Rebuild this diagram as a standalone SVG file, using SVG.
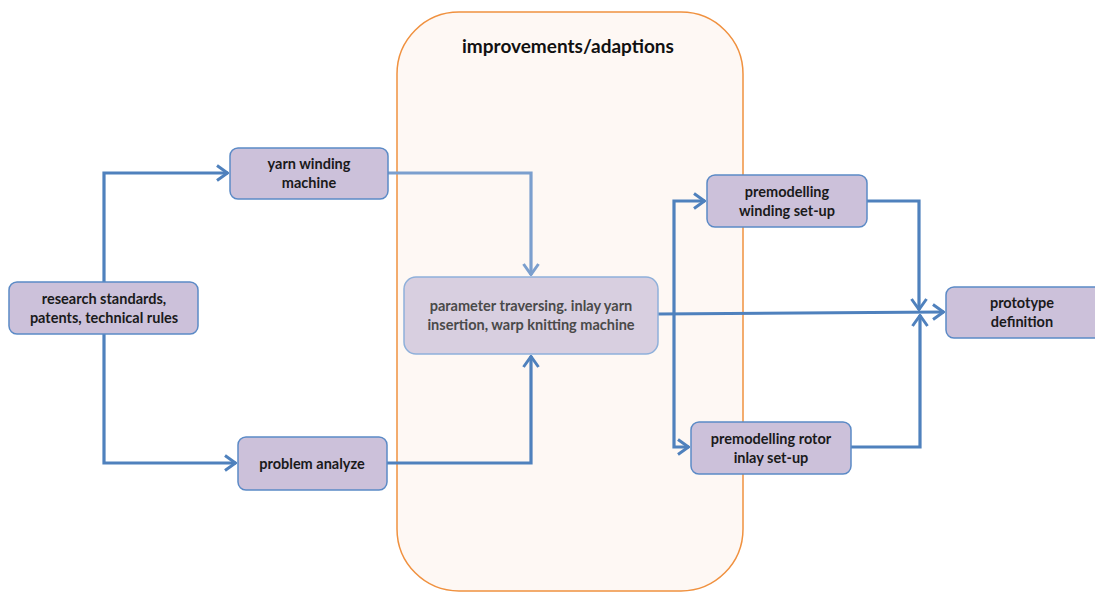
<svg xmlns="http://www.w3.org/2000/svg" width="1095" height="592" viewBox="0 0 1095 592">
<defs>
<style>
.node rect{fill:#ccc1da;stroke:#5b8ac6;stroke-width:1.5}
.node text{font-family:Lato,"Open Sans","Liberation Sans",sans-serif;font-weight:bold;font-size:14.5px;fill:#1a1a1a;text-anchor:middle}
.conn{fill:none;stroke:#4f81bd;stroke-width:3.2;stroke-linejoin:miter}
.light{stroke:#7b9fce}
</style>
<marker id="ah" viewBox="0 0 14 18" refX="13" refY="9" markerWidth="14" markerHeight="18" markerUnits="userSpaceOnUse" orient="auto">
<path d="M2,1.5 L12.5,9 L2,16.5" fill="none" stroke="#4f81bd" stroke-width="3"/>
</marker>
<marker id="ahl" viewBox="0 0 14 18" refX="13" refY="9" markerWidth="14" markerHeight="18" markerUnits="userSpaceOnUse" orient="auto">
<path d="M2,1.5 L12.5,9 L2,16.5" fill="none" stroke="#7b9fce" stroke-width="3"/>
</marker>
</defs>
<rect width="1095" height="592" fill="#ffffff"/>
<g id="group-improvements">
<rect x="397" y="12" width="346" height="579" rx="62" ry="62" fill="#fef8f4" stroke="#f0913f" stroke-width="1.5"/>
<text x="568" y="53" font-family="Lato,'Open Sans','Liberation Sans',sans-serif" font-weight="bold" font-size="19" fill="#111" text-anchor="middle">improvements/adaptions</text>
</g>
<g id="connectors">
<path class="conn" d="M104,282 V173 H228" marker-end="url(#ah)"/>
<path class="conn" d="M104,334 V463 H236" marker-end="url(#ah)"/>
<path class="conn light" d="M388,173 H531 V275" marker-end="url(#ahl)"/>
<path class="conn" d="M387,463 H531 V356" marker-end="url(#ah)"/>
<path class="conn" d="M658,314 L944,312" marker-end="url(#ah)"/>
<path class="conn" d="M674,314 V201 H705" marker-end="url(#ah)"/>
<path class="conn" d="M674,314 V447 H689" marker-end="url(#ah)"/>
<path class="conn" d="M867,201 H919 V310" marker-end="url(#ah)"/>
<path class="conn" d="M851,447 H920 V315" marker-end="url(#ah)"/>
</g>
<g id="node-research" class="node">
<rect x="9" y="282" width="189" height="52" rx="8"/>
<text x="104" y="304">research standards,</text>
<text x="104" y="323">patents, technical rules</text>
</g>
<g id="node-yarn" class="node">
<rect x="230" y="148" width="158" height="51" rx="8"/>
<text x="309" y="169">yarn winding</text>
<text x="309" y="188">machine</text>
</g>
<g id="node-problem" class="node">
<rect x="238" y="437" width="149" height="53" rx="8"/>
<text x="312" y="469">problem analyze</text>
</g>
<g id="node-parameter" class="node">
<rect x="404" y="277" width="254" height="77" rx="12" style="fill:#d8cfe0;stroke:#8fb0da"/>
<text x="531" y="311" style="fill:#4a4a4a">parameter traversing. inlay yarn</text>
<text x="531" y="330" style="fill:#4a4a4a">insertion, warp knitting machine</text>
</g>
<g id="node-premod-winding" class="node">
<rect x="707" y="175" width="160" height="52" rx="8"/>
<text x="787" y="197">premodelling</text>
<text x="787" y="216">winding set-up</text>
</g>
<g id="node-premod-rotor" class="node">
<rect x="691" y="422" width="160" height="52" rx="8"/>
<text x="771" y="444">premodelling rotor</text>
<text x="771" y="463">inlay set-up</text>
</g>
<g id="node-prototype" class="node">
<rect x="946" y="287" width="160" height="51" rx="8"/>
<text x="1022" y="308">prototype</text>
<text x="1022" y="327">definition</text>
</g>
</svg>
